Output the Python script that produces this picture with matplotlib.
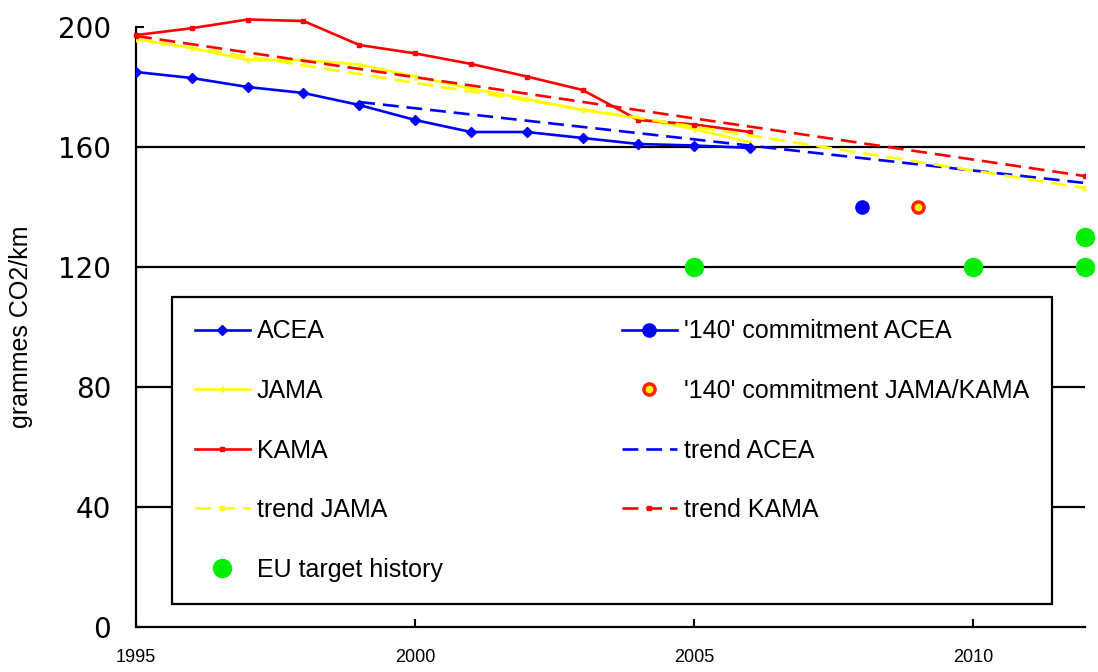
import matplotlib
matplotlib.use("Agg")
import matplotlib.pyplot as plt

# ---- data ----
years = [1995, 1996, 1997, 1998, 1999, 2000, 2001, 2002, 2003, 2004, 2005, 2006]
acea = [185, 183, 180, 178, 174, 169, 165, 165, 163, 161, 160.5, 159.7]
jama = [196, 193, 189, 189, 187.5, 183.5, 179.5, 176, 172.3, 169.6, 166, 161.5]
kama = [197.3, 199.6, 202.5, 202, 194, 191.2, 187.7, 183.5, 179, 169, 167.5, 165]

trend_acea_x = [1999, 2012]
trend_acea_y = [175, 148]
trend_jama_x = [1995, 2012]
trend_jama_y = [196, 146.3]
trend_kama_x = [1995, 2012]
trend_kama_y = [197, 150.3]

commit_acea_x = [2008]
commit_acea_y = [140]
commit_jk_x = [2009]
commit_jk_y = [140]

eu_target_x = [2005, 2010, 2012, 2012]
eu_target_y = [120, 120, 120, 130]

xticks = [1995, 2000, 2005, 2010]
yticks = [0, 40, 80, 120, 160, 200]
ylabel = "grammes CO2/km"

plt.rcParams['font.family'] = ['Liberation Sans', 'DejaVu Sans']

fig = plt.figure(figsize=(10.98, 6.72), dpi=100)
ax = fig.add_axes([136/1098, 45/672, (1085-136)/1098, 600/672])
ax.set_xlim(1995, 2012)
ax.set_ylim(0, 200)

# gridlines
for yv in yticks[1:-1]:
    ax.axhline(yv, color='black', lw=1.6, zorder=1)

lw = 1.9
ax.plot(years, acea, color='#0000FF', lw=lw, marker='D', ms=5, label='ACEA', zorder=4)
ax.plot(years, jama, color='#FFFF00', lw=lw, marker='|', ms=4, mew=2, label='JAMA', zorder=3)
ax.plot(years, kama, color='#FF0000', lw=lw, marker='s', ms=2.5, label='KAMA', zorder=3, clip_on=False)

ax.plot(trend_acea_x, trend_acea_y, color='#0000FF', lw=lw, ls=(0, (6, 3)), label='trend ACEA', zorder=3)
ax.plot(trend_jama_x, trend_jama_y, color='#FFFF00', lw=lw, ls=(0, (6, 3)), marker='s', ms=2.5, label='trend JAMA', zorder=3)
ax.plot(trend_kama_x, trend_kama_y, color='#FF0000', lw=lw, ls=(0, (6, 3)), marker='s', ms=2.5, label='trend KAMA', zorder=3)

ax.plot(commit_acea_x, commit_acea_y, color='#0000FF', lw=lw, marker='o', ms=9.5,
        label="'140' commitment ACEA", zorder=5)
ax.plot(commit_jk_x, commit_jk_y, ls='none', marker='o', ms=8, mfc='#FFFF00', mec='#FF2000', mew=2.5,
        label="'140' commitment JAMA/KAMA", zorder=5)
ax.plot(eu_target_x, eu_target_y, ls='none', marker='o', ms=13, color='#00EE00',
        label='EU target history', zorder=5, clip_on=False)

for s in ['top', 'right']:
    ax.spines[s].set_visible(False)
for s in ['left', 'bottom']:
    ax.spines[s].set_linewidth(1.6)
    ax.spines[s].set_zorder(2)

ax.set_xticks(xticks)
ax.set_xticklabels([str(x) for x in xticks], fontsize=13)
ax.set_yticks(yticks)
ax.set_yticklabels([str(y) for y in yticks], fontsize=20, family=['DejaVu Sans'])
ax.tick_params(axis='x', direction='in', length=6, width=1.5, pad=16)
ax.tick_params(axis='y', direction='in', length=6, width=1.5, pad=18)
ax.set_ylabel(ylabel, fontsize=18, labelpad=18)

handles, labels = ax.get_legend_handles_labels()
order = ['ACEA', 'JAMA', 'KAMA', 'trend JAMA', 'EU target history',
         "'140' commitment ACEA", "'140' commitment JAMA/KAMA", 'trend ACEA', 'trend KAMA']
hmap = dict(zip(labels, handles))
leg = ax.legend([hmap[k] for k in order], order, ncol=2, loc='upper left',
                bbox_to_anchor=(0.038, 0.55, 0.927, 0.0), mode='expand', borderaxespad=0,
                fontsize=18, frameon=True, fancybox=False, framealpha=1,
                edgecolor='black', labelspacing=1.42, borderpad=0.9,
                handlelength=2.2, handletextpad=0.3, numpoints=1)
leg.get_frame().set_linewidth(1.6)
leg.set_zorder(6)

fig.savefig('out.png', dpi=100)
